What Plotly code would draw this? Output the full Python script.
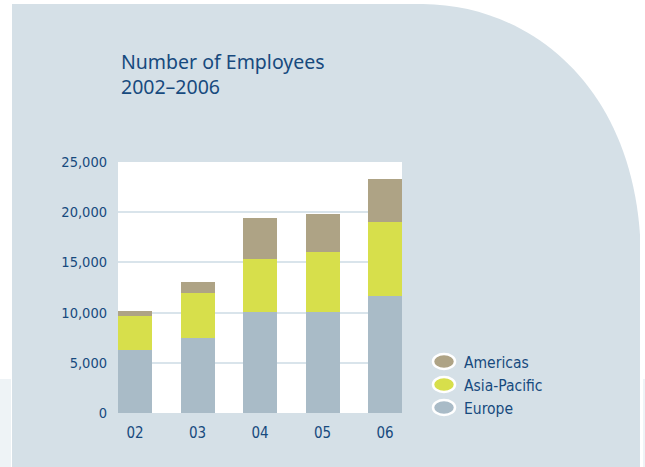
import plotly.graph_objects as go

# Employees by region, fiscal years 2002-2006
years = ["02", "03", "04", "05", "06"]
europe = [6300, 7500, 10100, 10100, 11700]
asia_pacific = [3400, 4500, 5200, 5900, 7300]
americas = [500, 1050, 4100, 3800, 4300]
y_ticks = [0, 5000, 10000, 15000, 20000, 25000]

series = [
    ("Europe", europe, "#a9bbc7"),
    ("Asia-Pacific", asia_pacific, "#d7df4b"),
    ("Americas", americas, "#aea385"),
]

W, H = 645, 467
L, R, T, B = 118, 402, 162, 413
TEXT = "#174a7e"
PANEL = "#d5e0e7"
TITLE_FONT = "Noto Sans"
NARROW = "DejaVu Sans Condensed, DejaVu Sans, sans-serif"


def px(x):
    return (x - L) / (R - L)


def py(y):
    return (B - y) / (B - T)


fig = go.Figure()
for name, vals, color in series:
    fig.add_trace(go.Bar(x=years, y=vals, name=name, marker=dict(color=color, line=dict(width=0)),
                         width=0.544))

shapes = []
# panel with rounded top-right corner
path = (f"M {px(12)},{py(467)} L {px(12)},{py(4)} L {px(423)},{py(4)} "
        f"C {px(530)},{py(5)} {px(630)},{py(85)} {px(640)},{py(235)} "
        f"L {px(640)},{py(467)} Z")
shapes.append(dict(type="path", path=path, xref="paper", yref="paper",
                   fillcolor=PANEL, line=dict(width=0), layer="below"))
# white plotting area
shapes.append(dict(type="rect", xref="paper", yref="paper", x0=0, x1=1, y0=0, y1=1,
                   fillcolor="white", line=dict(width=0), layer="below"))
# pale strips along the bottom edges
shapes.append(dict(type="rect", xref="paper", yref="paper", x0=px(0), x1=px(11), y0=py(467), y1=py(379),
                   fillcolor="#eef3f6", line=dict(width=0), layer="below"))
shapes.append(dict(type="rect", xref="paper", yref="paper", x0=px(643), x1=px(646), y0=py(467), y1=py(379),
                   fillcolor="#eef3f6", line=dict(width=0), layer="below"))

annotations = [
    dict(text="Number of Employees<br>2002–2006", xref="paper", yref="paper", x=px(119), y=py(74),
         xanchor="left", yanchor="middle", align="left", showarrow=False,
         font=dict(family=TITLE_FONT, size=19.5, color=TEXT)),
]

# legend: ellipse swatches with labels, top entry is the last stacked series
for i, (name, vals, color) in enumerate(reversed(series)):
    cy = 361.5 + i * 23
    shapes.append(dict(type="circle", xref="paper", yref="paper",
                       x0=px(433), x1=px(455), y0=py(cy - 7.5), y1=py(cy + 7.5),
                       fillcolor=color, line=dict(color="white", width=2.5)))
    annotations.append(dict(text=name, xref="paper", yref="paper", x=px(462), y=py(cy + 1),
                            xanchor="left", yanchor="middle", showarrow=False,
                            font=dict(family=NARROW, size=15.5, color=TEXT)))

fig.update_layout(
    width=W, height=H,
    margin=dict(l=L, r=W - R, t=T, b=H - B, pad=0),
    barmode="stack",
    showlegend=False,
    paper_bgcolor="white",
    plot_bgcolor="white",
    font=dict(family=NARROW, size=15, color=TEXT),
    shapes=shapes,
    annotations=annotations,
    xaxis=dict(range=[-0.272, 4.272], showgrid=False, zeroline=False, showline=False,
               ticks="", tickfont=dict(family=NARROW, size=15, color=TEXT), ticklabelstandoff=9),
    yaxis=dict(range=[0, 25000], tickvals=y_ticks, tickformat=",", showgrid=True,
               gridcolor="#d9e4eb", gridwidth=2, zeroline=False, showline=False, ticks="",
               tickfont=dict(family=NARROW, size=14.5, color=TEXT), ticklabelstandoff=10),
)

fig.write_html("out.html")
